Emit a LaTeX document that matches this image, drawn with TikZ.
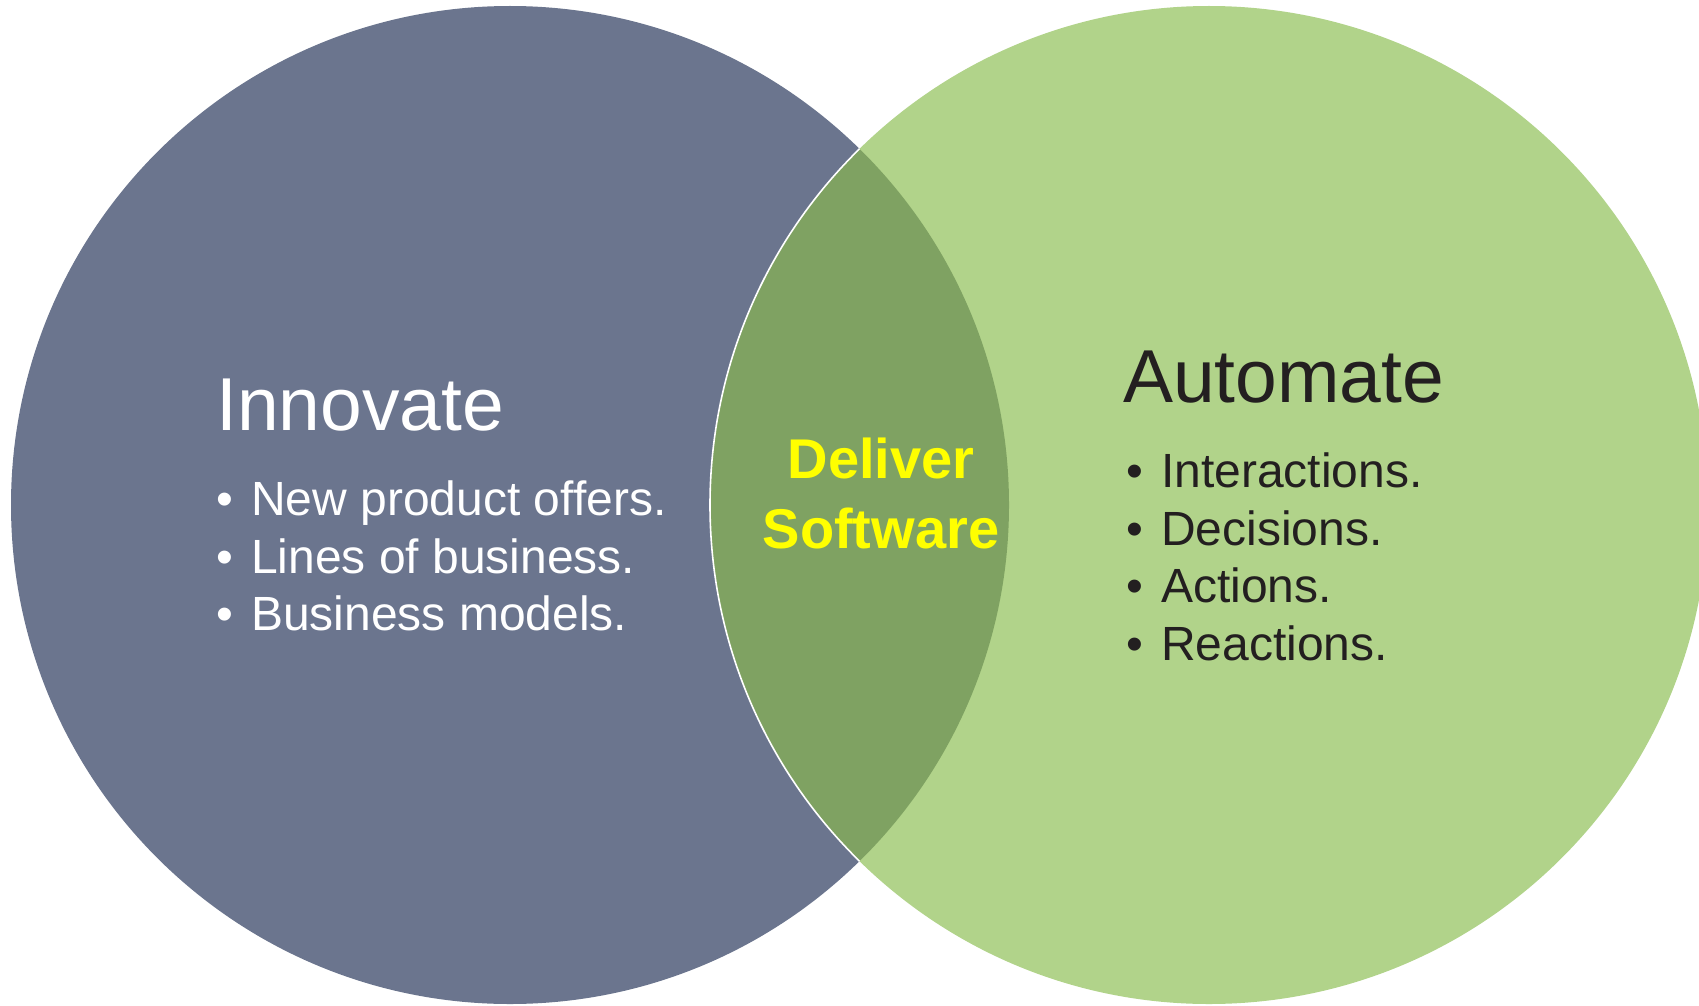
\documentclass[tikz,border=0pt]{standalone}
\usepackage{fontspec}
\setmainfont{Liberation Sans}
\definecolor{innov}{RGB}{107,117,142}
\definecolor{autom}{RGB}{177,211,138}
\definecolor{lens}{RGB}{127,162,98}
\definecolor{darktxt}{RGB}{35,31,32}
\definecolor{yel}{RGB}{255,255,0}
\tikzset{
  title/.style={anchor=base west, inner sep=0pt, font=\fontsize{75}{80}\selectfont},
  item/.style={anchor=base west, inner sep=0pt, font=\fontsize{48}{52}\selectfont},
  center/.style={anchor=base, inner sep=0pt, font=\fontsize{56}{62}\selectfont\bfseries, text=yel}
}
\newcommand{\bul}{\makebox[35pt][l]{•}}
\begin{document}
\begin{tikzpicture}[x=1pt,y=-1pt]
\useasboundingbox (0,0) rectangle (1699,1006);
\clip (0,0) rectangle (1699,1006);
\fill[innov] (510,505) circle [radius=499pt];
\fill[autom] (1209,505) circle [radius=499pt];
\begin{scope}
  \clip (510,505) circle [radius=499pt];
  \fill[lens] (1209,505) circle [radius=499pt];
  \draw[white, line width=1.6pt] (1209,505) circle [radius=499pt];
\end{scope}
% left texts
\node[title, text=white] (inn) at (216,430) {Innovate};
\node[item, text=white] (i1) at (216,515) {\bul New product offers.};
\node[item, text=white] (i2) at (216,573) {\bul Lines of business.};
\node[item, text=white] (i3) at (216,630) {\bul Business models.};
% right texts
\node[title, text=darktxt] (aut) at (1123,402) {Automate};
\node[item, text=darktxt] (a1) at (1126,487) {\bul Interactions.};
\node[item, text=darktxt] (a2) at (1126,545) {\bul Decisions.};
\node[item, text=darktxt] (a3) at (1126,602) {\bul Actions.};
\node[item, text=darktxt] (a4) at (1126,660) {\bul Reactions.};
% center
\node[center] (d1) at (881,478) {Deliver};
\node[center] (d2) at (881,548) {Software};
\end{tikzpicture}
\end{document}
